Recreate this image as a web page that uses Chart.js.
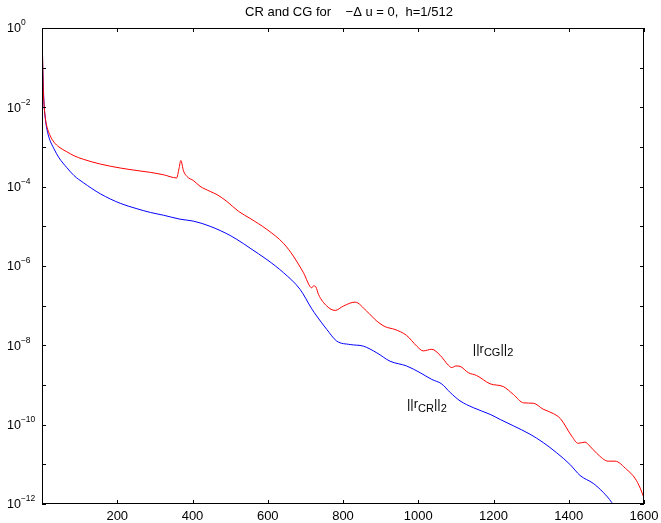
<!DOCTYPE html>
<html>
<head>
<meta charset="utf-8">
<script src="https://cdn.jsdelivr.net/npm/chart.js@4"></script>
<style>
  html, body { margin: 0; padding: 0; background: #fff; }
  #wrap { width: 661px; height: 523px; position: relative; }
</style>
</head>
<body>
<div id="wrap"><canvas id="grafico"></canvas></div>
<script>
// ===== DADOS =====

// iterações e log10 do resíduo para CG
const cgIter = [0, 1, 2, 3, 4, 6, 10, 15, 22, 32, 45, 66, 85, 110, 155, 208, 250, 288, 323, 358, 364, 369, 376, 385, 403, 420, 447, 465, 491, 522, 553, 598, 642, 668, 695, 717, 722, 728, 735, 757, 779, 801, 832, 863, 890, 912, 938, 969, 996, 1013, 1036, 1058, 1080, 1089, 1100, 1111, 1133, 1155, 1191, 1226, 1253, 1280, 1306, 1332, 1359, 1378, 1408, 1425, 1443, 1456, 1474, 1505, 1523, 1554, 1576, 1590, 1600];
const cgLog10 = [0, -0.5, -0.95, -1.4, -1.7, -2.0, -2.35, -2.55, -2.72, -2.88, -3.0, -3.12, -3.22, -3.31, -3.43, -3.53, -3.59, -3.64, -3.7, -3.78, -3.55, -3.34, -3.6, -3.74, -3.85, -3.99, -4.12, -4.2, -4.37, -4.62, -4.8, -5.08, -5.43, -5.75, -6.17, -6.55, -6.5, -6.53, -6.72, -7.01, -7.12, -7.01, -6.91, -7.14, -7.39, -7.53, -7.6, -7.75, -8.02, -8.14, -8.1, -8.25, -8.5, -8.56, -8.52, -8.53, -8.69, -8.76, -8.97, -9.04, -9.24, -9.45, -9.46, -9.61, -9.72, -9.85, -10.29, -10.47, -10.44, -10.54, -10.72, -10.92, -10.92, -11.13, -11.35, -11.6, -11.85];

// iterações e log10 do resíduo para CR
const crIter = [0, 1, 2, 4, 6, 9, 13, 20, 31, 45, 66, 85, 110, 155, 208, 250, 288, 323, 367, 403, 447, 500, 536, 553, 598, 642, 686, 717, 730, 757, 783, 819, 854, 890, 925, 969, 1005, 1036, 1062, 1085, 1111, 1146, 1191, 1218, 1253, 1297, 1332, 1368, 1403, 1430, 1465, 1492, 1514, 1525];
const crLog10 = [0, -0.55, -1.0, -1.6, -2.0, -2.3, -2.55, -2.8, -3.03, -3.27, -3.52, -3.72, -3.9, -4.18, -4.42, -4.55, -4.65, -4.72, -4.82, -4.87, -5.0, -5.23, -5.44, -5.55, -5.84, -6.17, -6.59, -7.08, -7.26, -7.6, -7.89, -7.98, -8.02, -8.19, -8.4, -8.52, -8.69, -8.86, -8.97, -9.19, -9.4, -9.57, -9.74, -9.87, -10.03, -10.24, -10.45, -10.71, -11.0, -11.28, -11.48, -11.71, -11.96, -12.15];

// rótulos dos eixos
const xTicks = [200, 400, 600, 800, 1000, 1200, 1400, 1600];
const yExpoentes = [0, -1, -2, -3, -4, -5, -6, -7, -8, -9, -10, -11, -12];
const yRotulos = [0, -2, -4, -6, -8, -10, -12];

const titulo = 'CR and CG for    \u2212\u0394 u = 0,  h=1/512';

// ===== DESENHO =====

const FONTE = '"Liberation Sans", Arial, Helvetica, sans-serif';

function pontos(iter, logs) {
    return iter.map((x, i) => ({ x: x, y: Math.pow(10, logs[i]) }));
}

// texto com sub/sobrescrito: partes = [[texto, deslocY, tamanho], ...]
function textoComposto(ctx, partes, x, y) {
    let cx = x;
    partes.forEach(p => {
        ctx.font = p[2] + 'px ' + FONTE;
        ctx.fillText(p[0], cx, y + p[1]);
        cx += ctx.measureText(p[0]).width;
    });
}

const eixosMatlab = {
    id: 'eixosMatlab',
    afterDraw(chart) {
        const ctx = chart.ctx;
        const a = chart.chartArea;
        const sx = chart.scales.x;
        const sy = chart.scales.y;
        ctx.save();
        ctx.strokeStyle = '#000';
        ctx.fillStyle = '#000';
        ctx.lineWidth = 1;

        // moldura
        ctx.strokeRect(a.left + 0.5, a.top + 0.5, a.right - a.left - 1, a.bottom - a.top - 1);
        ctx.beginPath();
        ctx.moveTo(a.right - 0.5, a.top);
        ctx.lineTo(a.right - 0.5, a.bottom);
        ctx.stroke();

        // ticks do eixo x (para dentro, em baixo e em cima)
        ctx.beginPath();
        xTicks.forEach(v => {
            const px = Math.round(sx.getPixelForValue(v)) + 0.5;
            ctx.moveTo(px, a.bottom);
            ctx.lineTo(px, a.bottom - 4);
            ctx.moveTo(px, a.top);
            ctx.lineTo(px, a.top + 4);
        });
        // ticks do eixo y
        yExpoentes.forEach(e => {
            const py = Math.round(sy.getPixelForValue(Math.pow(10, e))) + 0.5;
            ctx.moveTo(a.left, py);
            ctx.lineTo(a.left + 4, py);
            ctx.moveTo(a.right, py);
            ctx.lineTo(a.right - 4, py);
        });
        ctx.stroke();

        // rótulos x
        ctx.font = '13px ' + FONTE;
        ctx.textAlign = 'center';
        ctx.textBaseline = 'middle';
        xTicks.forEach(v => {
            ctx.fillText(String(v), sx.getPixelForValue(v), a.bottom + 12);
        });

        // rótulos y: 10^e
        ctx.textAlign = 'left';
        ctx.textBaseline = 'middle';
        yRotulos.forEach(e => {
            const py = sy.getPixelForValue(Math.pow(10, e));
            const exp = e === 0 ? '0' : '\u2212' + String(-e);
            textoComposto(ctx, [['10', 1, 12.5], [exp, -5, 8.5]], 7, py);
        });

        // título
        ctx.font = '13px ' + FONTE;
        ctx.textAlign = 'center';
        ctx.fillText(titulo, 349, 12);

        // legendas das curvas
        ctx.textAlign = 'left';
        textoComposto(ctx, [['||r', 0, 13], ['CG', 4, 11], ['||', 0, 13], ['2', 4, 11]],
            sx.getPixelForValue(1145), sy.getPixelForValue(Math.pow(10, -8.1)));
        textoComposto(ctx, [['||r', 0, 13], ['CR', 4, 11], ['||', 0, 13], ['2', 4, 11]],
            sx.getPixelForValue(970), sy.getPixelForValue(Math.pow(10, -9.5)));

        ctx.restore();
    }
};

const ctxGrafico = document.getElementById('grafico');

const grafico = new Chart(ctxGrafico, {
    type: 'line',
    data: {
        datasets: [
            {
                label: 'CG',
                data: pontos(cgIter, cgLog10),
                borderColor: '#ff0000',
                borderWidth: 1,
                pointRadius: 0,
                cubicInterpolationMode: 'monotone',
                fill: false
            },
            {
                label: 'CR',
                data: pontos(crIter, crLog10),
                borderColor: '#0000ff',
                borderWidth: 1,
                pointRadius: 0,
                cubicInterpolationMode: 'monotone',
                fill: false
            }
        ]
    },
    options: {
        responsive: true,
        maintainAspectRatio: false,
        animation: false,
        layout: {
            padding: { left: 42, top: 28, right: 17, bottom: 19 }
        },
        plugins: {
            legend: { display: false },
            tooltip: { enabled: false },
            title: { display: false }
        },
        scales: {
            x: {
                type: 'linear',
                min: 0,
                max: 1600,
                display: false
            },
            y: {
                type: 'logarithmic',
                min: 1e-12,
                max: 1,
                display: false
            }
        }
    },
    plugins: [eixosMatlab]
});
</script>
</body>
</html>
